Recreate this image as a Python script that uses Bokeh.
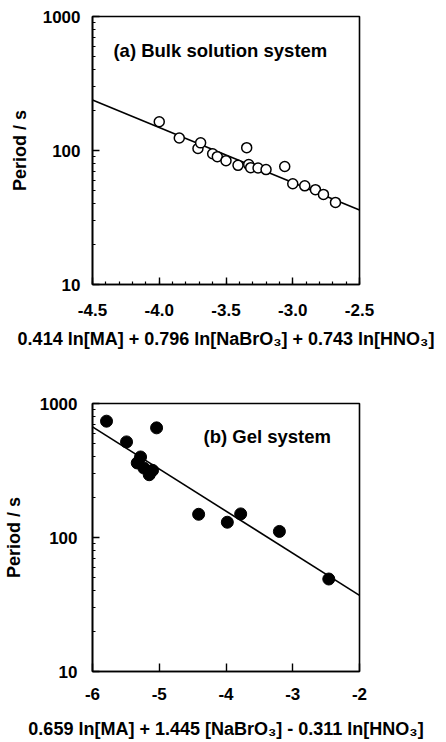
from bokeh.plotting import figure
from bokeh.layouts import column
from bokeh.models import (Range1d, FixedTicker, SingleIntervalTicker,
                          PrintfTickFormatter, Label)
from bokeh.embed import file_html
from bokeh.resources import INLINE

# ---------------- data ----------------
# (a) Bulk solution system
a_x = [-4.00, -3.85, -3.71, -3.69, -3.60, -3.565, -3.50, -3.41, -3.345, -3.33,
       -3.315, -3.26, -3.20, -3.06, -3.00, -2.91, -2.83, -2.77, -2.68]
a_y = [164, 124, 103.5, 114, 94.5, 90, 84, 77.5, 105, 78.5,
       74.5, 74, 72, 76, 56.5, 54.5, 51, 47, 41]
a_fit_x = [-4.5, -2.5]
a_fit_y = [238, 36]

# (b) Gel system
b_x = [-5.79, -5.04, -5.49, -5.28, -5.33, -5.23, -5.15, -5.10,
       -4.41, -3.98, -3.78, -3.20, -2.46]
b_y = [738, 658, 517, 399, 360, 330, 294, 317,
       149, 130, 150, 111, 49]
b_fit_x = [-6.0, -2.0]
b_fit_y = [669, 37]

y_ticks = [10, 100, 1000]
y_minor = [20, 30, 40, 50, 60, 70, 80, 90, 200, 300, 400, 500, 600, 700, 800, 900]

a_xlabel = "0.414 ln[MA] + 0.796 ln[NaBrO\u2083] + 0.743 ln[HNO\u2083]"
b_xlabel = "0.659 ln[MA] + 1.445 [NaBrO\u2083] - 0.311 ln[HNO\u2083]"
ylabel = "Period / s"
a_title = "(a) Bulk solution system"
b_title = "(b) Gel system"

FONT = "Liberation Sans"


def style(p, xticker, xfmt, lab_standoff_x, lab_standoff_y,
          axlab_standoff_x, axlab_standoff_y):
    p.xgrid.visible = False
    p.ygrid.visible = False
    p.outline_line_color = "black"
    p.outline_line_width = 1.6
    p.background_fill_color = "white"
    p.border_fill_color = "white"
    p.yaxis.ticker = FixedTicker(ticks=y_ticks, minor_ticks=y_minor)
    p.yaxis.formatter = PrintfTickFormatter(format="%d")
    p.xaxis.ticker = xticker
    p.xaxis.formatter = PrintfTickFormatter(format=xfmt)
    for ax in (p.xaxis[0], p.yaxis[0]):
        ax.axis_line_color = "black"
        ax.axis_line_width = 1.6
        ax.major_tick_in = 7
        ax.major_tick_out = 0
        ax.minor_tick_in = 3
        ax.minor_tick_out = 0
        ax.major_tick_line_width = 1.4
        ax.minor_tick_line_width = 1.2
        ax.major_tick_line_color = "black"
        ax.minor_tick_line_color = "black"
        ax.major_label_text_font = FONT
        ax.major_label_text_font_style = "bold"
        ax.major_label_text_font_size = "17px"
        ax.major_label_text_color = "black"
        ax.axis_label_text_font = FONT
        ax.axis_label_text_font_style = "bold"
        ax.axis_label_text_font_size = "18px"
        ax.axis_label_text_color = "black"
    p.xaxis.major_label_standoff = lab_standoff_x
    p.yaxis.major_label_standoff = lab_standoff_y
    p.xaxis.axis_label_standoff = axlab_standoff_x
    p.yaxis.axis_label_standoff = axlab_standoff_y


# ---------------- panel (a) ----------------
p1 = figure(width=446, height=355, output_backend="svg", toolbar_location=None,
            x_range=Range1d(-4.5, -2.5), y_range=Range1d(10, 1000),
            y_axis_type="log",
            min_border_left=92, min_border_right=87, min_border_top=16,
            min_border_bottom=71)
style(p1, SingleIntervalTicker(interval=0.5, num_minor_ticks=5), "%.1f",
      19, 12, 10, 10)
p1.xaxis.axis_label = a_xlabel
p1.yaxis.axis_label = ylabel
p1.line(a_fit_x, a_fit_y, line_color="black", line_width=1.6)
p1.scatter(a_x, a_y, marker="circle", size=10, fill_color="white",
           line_color="black", line_width=1.5)
p1.add_layout(Label(x=-4.343, y=557, text=a_title, text_font=FONT,
                    text_font_style="bold", text_font_size="18.5px",
                    text_baseline="middle", text_color="black"))

# ---------------- panel (b) ----------------
p2 = figure(width=446, height=387, output_backend="svg", toolbar_location=None,
            x_range=Range1d(-6, -2), y_range=Range1d(10, 1000),
            y_axis_type="log",
            min_border_left=92, min_border_right=87, min_border_top=48,
            min_border_bottom=71)
style(p2, SingleIntervalTicker(interval=1, num_minor_ticks=0), "%d",
      16, 15, 16, 13)
p2.xaxis.major_tick_in = 8
p2.xaxis.axis_label = b_xlabel
p2.yaxis.axis_label = ylabel
p2.line(b_fit_x, b_fit_y, line_color="black", line_width=1.6)
p2.scatter(b_x, b_y, marker="circle", size=12, fill_color="black",
           line_color="black", line_width=1)
p2.add_layout(Label(x=-4.337, y=568, text=b_title, text_font=FONT,
                    text_font_style="bold", text_font_size="18.5px",
                    text_baseline="middle", text_color="black"))

layout = column(p1, p2, spacing=0)
open("out.html", "w").write(file_html(layout, INLINE))
